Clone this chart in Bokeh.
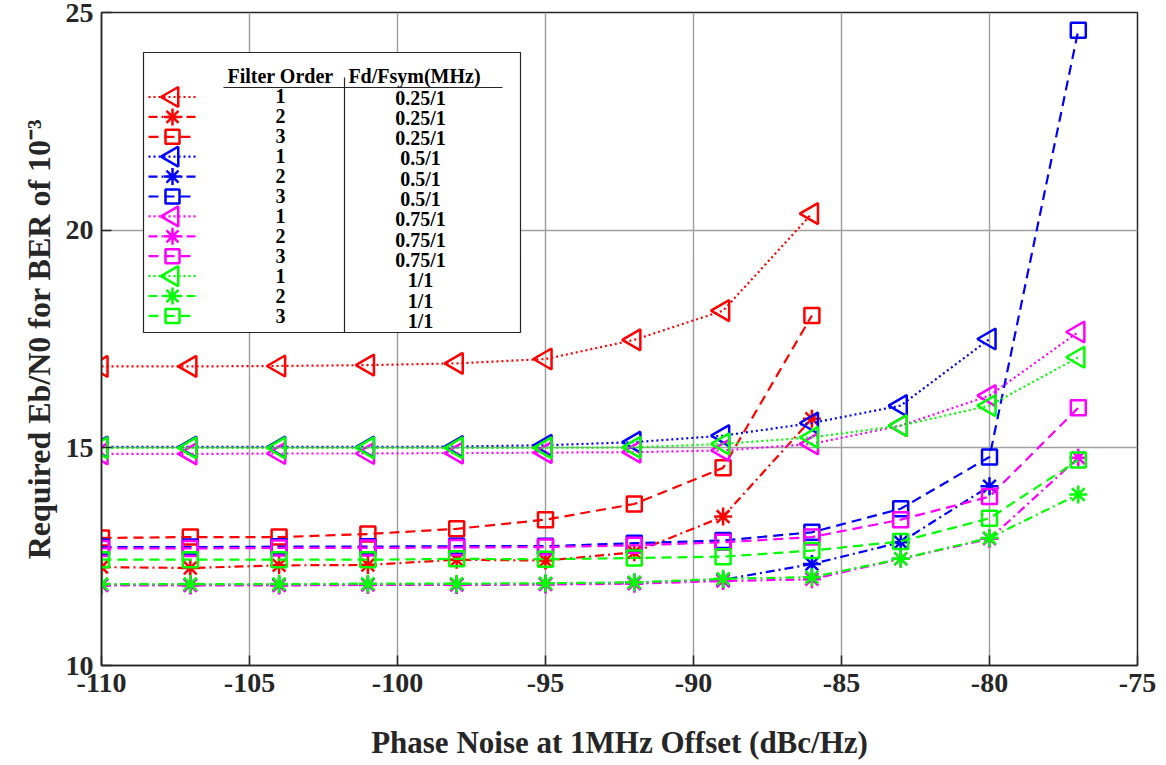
import math
from bokeh.plotting import figure
from bokeh.models import Range1d, FixedTicker
from bokeh.core.properties import value
from bokeh.embed import file_html
from bokeh.resources import INLINE

# ---------------- data ----------------
phase_noise = [-110, -107, -104, -101, -98, -95, -92, -89, -86, -83, -80, -77]
x_ticks = [-110, -105, -100, -95, -90, -85, -80, -75]
x_tick_labels = ["-110", "-105", "-100", "-95", "-90", "-85", "-80", "-75"]
y_ticks = [10, 15, 20, 25]

filter_order = ["1", "2", "3", "1", "2", "3", "1", "2", "3", "1", "2", "3"]
fd_fsym = ["0.25/1", "0.25/1", "0.25/1", "0.5/1", "0.5/1", "0.5/1",
           "0.75/1", "0.75/1", "0.75/1", "1/1", "1/1", "1/1"]

red_o1 = [16.87, 16.87, 16.88, 16.90, 16.94, 17.04, 17.48, 18.15, 20.38]
red_o2 = [12.26, 12.24, 12.30, 12.31, 12.43, 12.41, 12.60, 13.42, 15.67]
red_o3 = [12.93, 12.95, 12.95, 13.02, 13.14, 13.35, 13.71, 14.54, 18.04]
blue_o1 = [15.02, 15.02, 15.02, 15.02, 15.03, 15.06, 15.13, 15.28, 15.57, 15.97, 17.50]
blue_o2 = [11.85, 11.85, 11.85, 11.86, 11.86, 11.87, 11.90, 11.97, 12.33, 12.83, 14.12]
blue_o3 = [12.72, 12.72, 12.73, 12.73, 12.74, 12.74, 12.81, 12.87, 13.06, 13.60, 14.79, 24.59]
mag_o1 = [14.86, 14.86, 14.87, 14.87, 14.88, 14.89, 14.90, 14.94, 15.09, 15.51, 16.20, 17.66]
mag_o2 = [11.84, 11.84, 11.84, 11.85, 11.85, 11.86, 11.88, 11.94, 11.98, 12.45, 12.91, 14.77]
mag_o3 = [12.69, 12.69, 12.70, 12.70, 12.71, 12.72, 12.76, 12.83, 12.95, 13.35, 13.88, 15.92]
green_o1 = [15.00, 15.00, 15.00, 15.00, 15.00, 15.00, 15.01, 15.09, 15.24, 15.51, 15.97, 17.08]
green_o2 = [11.87, 11.87, 11.87, 11.88, 11.88, 11.89, 11.91, 11.99, 12.03, 12.45, 12.93, 13.93]
green_o3 = [12.43, 12.43, 12.43, 12.43, 12.45, 12.44, 12.47, 12.50, 12.64, 12.85, 13.38, 14.72]

series = [red_o1, red_o2, red_o3, blue_o1, blue_o2, blue_o3,
          mag_o1, mag_o2, mag_o3, green_o1, green_o2, green_o3]

# ---------------- styles ----------------
colors = ["#ff0000"] * 3 + ["#0000ff"] * 3 + ["#ff00ff"] * 3 + ["#00ff00"] * 3
style_for_order = {
    "1": dict(marker="triangle", dash="2 3", size=21, angle=math.pi / 2),
    "2": dict(marker="asterisk", dash="9 4 2 4", size=18, angle=0.0),
    "3": dict(marker="square", dash="10 6", size=15, angle=0.0),
}
FONT = "Liberation Serif"
AX = "#262626"

W, H = 1166, 765
L, R, T, B = 101, 29, 12, 100
X0, X1, Y0, Y1 = -110, -75, 10, 25
FW, FH = W - L - R, H - T - B

def px_x(px):
    return X0 + (px - L) * (X1 - X0) / FW

def px_y(py):
    return Y1 - (py - T) * (Y1 - Y0) / FH

p = figure(width=W, height=H, output_backend="svg", toolbar_location=None,
           x_range=Range1d(X0, X1), y_range=Range1d(Y0, Y1),
           min_border_left=L, min_border_right=R, min_border_top=T,
           min_border_bottom=B)
p.background_fill_color = "white"
p.border_fill_color = "white"
p.outline_line_color = AX
p.outline_line_width = 1.5

for ax in (p.xaxis[0], p.yaxis[0]):
    ax.major_label_text_font = FONT
    ax.major_label_text_font_style = "bold"
    ax.major_label_text_font_size = "28px"
    ax.major_label_text_color = AX
    ax.axis_label_text_font = FONT
    ax.axis_label_text_font_style = "bold"
    ax.axis_label_text_color = AX
    ax.axis_line_color = AX
    ax.axis_line_width = 1.5
    ax.major_tick_in = 10
    ax.major_tick_out = 0
    ax.major_tick_line_color = AX
    ax.major_tick_line_width = 1.5
    ax.minor_tick_line_color = None

p.xaxis[0].ticker = FixedTicker(ticks=x_ticks)
p.xaxis[0].major_label_overrides = dict(zip(x_ticks, x_tick_labels))
p.yaxis[0].ticker = FixedTicker(ticks=y_ticks)
p.xaxis[0].axis_label = "Phase Noise at 1MHz Offset (dBc/Hz)"
p.xaxis[0].axis_label_text_font_size = "31px"
p.xaxis[0].major_label_standoff = 8
p.xaxis[0].axis_label_standoff = 30
p.yaxis[0].axis_label = "Required Eb/N0 for BER of 10\u207b\u00b3"
p.yaxis[0].axis_label_text_font_size = "32px"
p.yaxis[0].major_label_standoff = 8
p.yaxis[0].axis_label_standoff = 6

p.xgrid.ticker = FixedTicker(ticks=x_ticks)
p.ygrid.ticker = FixedTicker(ticks=y_ticks)
p.grid.grid_line_color = "#a0a0a0"
p.grid.grid_line_width = 1.5

# ---------------- series ----------------
for vals, col, order in zip(series, colors, filter_order):
    st = style_for_order[order]
    xs = phase_noise[:len(vals)]
    p.line(xs, vals, line_color=col, line_width=2.2, line_dash=st["dash"])
    p.scatter(xs, vals, marker=st["marker"], size=st["size"], angle=st["angle"],
              fill_color=None, line_color=col, line_width=2.5)

# ---------------- legend (table) ----------------
box_l, box_t, box_r, box_b = 143, 52, 520, 332
p.quad(left=[px_x(box_l)], right=[px_x(box_r)], top=[px_y(box_t)], bottom=[px_y(box_b)],
       fill_color="white", line_color=AX, line_width=1.2)
p.segment(x0=[px_x(223), px_x(344)], y0=[px_y(87), px_y(77)],
          x1=[px_x(502), px_x(344)], y1=[px_y(87), px_y(box_b)],
          line_color=AX, line_width=1.2)
p.text(x=[px_x(280), px_x(414)], y=[px_y(75), px_y(75)],
       text=["Filter Order", "Fd/Fsym(MHz)"], text_font=value(FONT),
       text_font_style="bold", text_font_size="20px", text_align="center",
       text_baseline="middle", text_color="black")

n = len(series)
row_y = [px_y(95 + 20.0 * i) for i in range(n)]
fd_y = [px_y(97 + 20.3 * i) for i in range(n)]
samp_y = [px_y(96.5 + 19.9 * i) for i in range(n)]
p.text(x=[px_x(280)] * n, y=row_y, text=filter_order, text_font=value(FONT),
       text_font_style="bold", text_font_size="20px", text_align="center",
       text_baseline="middle", text_color="black")
p.text(x=[px_x(420)] * n, y=fd_y, text=fd_fsym, text_font=value(FONT),
       text_font_style="bold", text_font_size="20px", text_align="center",
       text_baseline="middle", text_color="black")
for i, (col, order) in enumerate(zip(colors, filter_order)):
    st = style_for_order[order]
    p.line([px_x(148), px_x(196)], [samp_y[i], samp_y[i]], line_color=col,
           line_width=2.2, line_dash=st["dash"])
    p.scatter([px_x(172)], [samp_y[i]], marker=st["marker"], size=st["size"] - 1,
              angle=st["angle"], fill_color=None, line_color=col, line_width=2.5)

open("out.html", "w").write(file_html(p, INLINE))
